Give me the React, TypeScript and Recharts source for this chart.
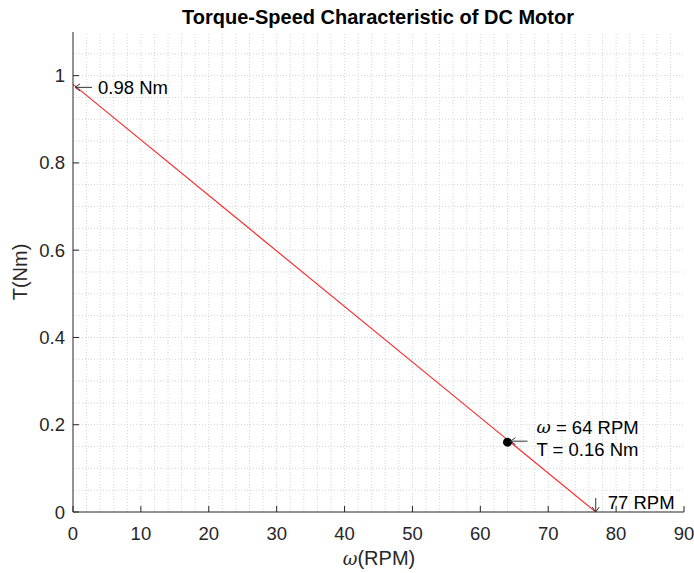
import React from 'react';
import {
  ComposedChart,
  Line,
  Scatter,
  XAxis,
  YAxis,
  ReferenceLine,
  ReferenceDot,
} from 'recharts';

// torque-speed line (two end points are enough, it is straight)
const speedRpm = [0, 77];
const torqueNm = [0.98, 0];

// operating point
const opSpeed = [64];
const opTorque = [0.16];

const xTicks = [0, 10, 20, 30, 40, 50, 60, 70, 80, 90];
const yTicks = [0, 0.2, 0.4, 0.6, 0.8, 1];
const xMinor = [2, 4, 6, 8, 12, 14, 16, 18, 22, 24, 26, 28, 32, 34, 36, 38, 42, 44, 46, 48, 52, 54, 56, 58, 62, 64, 66, 68, 72, 74, 76, 78, 82, 84, 86, 88];
const yMinor = [0.05, 0.1, 0.15, 0.25, 0.3, 0.35, 0.45, 0.5, 0.55, 0.65, 0.7, 0.75, 0.85, 0.9, 0.95, 1.05];

const lineData = speedRpm.map((s, i) => ({ speed: s, torque: torqueNm[i] }));
const pointData = opSpeed.map((s, i) => ({ speed: s, torque: opTorque[i] }));

const ink = '#262626';
const arrowInk = '#333';
const gridColor = '#d4d4d4';
const font = '"Liberation Sans", Arial, Helvetica, sans-serif';
const TICK_IN = 6;
const FS = 18.5;

const BottomTick = (props: any) => {
  const { x, y, payload } = props;
  const axisY = y - 14;
  return (
    <g>
      <line x1={x} x2={x} y1={axisY} y2={axisY - TICK_IN} stroke={ink} strokeWidth={1} />
      <text x={x} y={y} textAnchor="middle" dominantBaseline="hanging" fill={ink} fontSize={FS} fontFamily={font}>
        {payload.value}
      </text>
    </g>
  );
};

const TopTick = (props: any) => {
  const { x, y } = props;
  return <line x1={x} x2={x} y1={y} y2={y + TICK_IN} stroke={ink} strokeWidth={1} />;
};

const LeftTick = (props: any) => {
  const { x, y, payload } = props;
  const axisX = x + 8;
  return (
    <g>
      <line x1={axisX} x2={axisX + TICK_IN} y1={y} y2={y} stroke={ink} strokeWidth={1} />
      <text x={x} y={y} textAnchor="end" dominantBaseline="central" fill={ink} fontSize={FS} fontFamily={font}>
        {payload.value}
      </text>
    </g>
  );
};

const RightTick = (props: any) => {
  const { x, y } = props;
  return <line x1={x} x2={x - TICK_IN} y1={y} y2={y} stroke={ink} strokeWidth={1} />;
};

// MATLAB-style "\leftarrow" drawn as a thin arrow
const LeftArrow = ({ x, y }: { x: number; y: number }) => (
  <path
    d={`M${x},${y} L${x + 17},${y} M${x + 5},${y - 3.5} L${x},${y} L${x + 5},${y + 3.5}`}
    stroke={arrowInk}
    strokeWidth={1}
    fill="none"
  />
);

const StartLabel = ({ viewBox }: any) => (
  <g fontFamily={font} fontSize={FS}>
    <LeftArrow x={viewBox.x + 2} y={viewBox.y + 3} />
    <text x={viewBox.x + 25} y={viewBox.y + 3} dominantBaseline="central" fill="#000">0.98 Nm</text>
  </g>
);

const OpLabel = ({ viewBox }: any) => (
  <g fontFamily={font} fontSize={FS}>
    <LeftArrow x={viewBox.x + 3} y={viewBox.y - 1} />
    <text x={viewBox.x + 29} y={viewBox.y - 15} dominantBaseline="central" fill="#000">
      <tspan fontStyle="italic" fontFamily='"DejaVu Serif", serif' fontSize={FS - 1}>ω</tspan>
      <tspan> = 64 RPM</tspan>
    </text>
    <text x={viewBox.x + 29} y={viewBox.y + 7} dominantBaseline="central" fill="#000">T = 0.16 Nm</text>
  </g>
);

const ZeroLabel = ({ viewBox }: any) => (
  <g fontFamily={font} fontSize={FS}>
    <path
      d={`M${viewBox.x},${viewBox.y - 14} L${viewBox.x},${viewBox.y} M${viewBox.x - 3.5},${viewBox.y - 5} L${viewBox.x},${viewBox.y} L${viewBox.x + 3.5},${viewBox.y - 5}`}
      stroke={arrowInk}
      strokeWidth={1}
      fill="none"
    />
    <text x={viewBox.x + 12} y={viewBox.y - 10} dominantBaseline="central" fill="#000">77 RPM</text>
  </g>
);

export default function App() {
  return (
    <div style={{ width: 694, height: 573, background: '#fff' }}>
      <style>{'body{margin:0;background:#fff}'}</style>
      <ComposedChart
        width={694}
        height={573}
        margin={{ top: 32, right: 10, bottom: 0, left: 13 }}
        style={{ background: '#fff', overflow: 'visible' }}
      >
        <XAxis
          xAxisId="b"
          type="number"
          dataKey="speed"
          domain={[0, 90]}
          ticks={xTicks}
          interval={0}
          allowDataOverflow
          height={61}
          tickSize={0}
          tickMargin={14}
          tickLine={false}
          axisLine={{ stroke: ink, strokeWidth: 1 }}
          tick={<BottomTick />}
        />
        <XAxis
          xAxisId="t"
          orientation="top"
          type="number"
          dataKey="speed"
          domain={[0, 90]}
          ticks={xTicks}
          interval={0}
          height={0}
          tickSize={0}
          tickMargin={0}
          tickLine={false}
          axisLine={{ stroke: ink, strokeWidth: 1 }}
          tick={<TopTick />}
        />
        <YAxis
          yAxisId="l"
          type="number"
          dataKey="torque"
          domain={[0, 1.1]}
          ticks={yTicks}
          interval={0}
          allowDataOverflow
          width={60}
          tickSize={0}
          tickMargin={8}
          tickLine={false}
          axisLine={{ stroke: ink, strokeWidth: 1 }}
          tick={<LeftTick />}
        />
        <YAxis
          yAxisId="r"
          orientation="right"
          type="number"
          dataKey="torque"
          domain={[0, 1.1]}
          ticks={yTicks}
          interval={0}
          width={0}
          tickSize={0}
          tickMargin={0}
          tickLine={false}
          axisLine={{ stroke: ink, strokeWidth: 1 }}
          tick={<RightTick />}
        />

        {xMinor.concat(xTicks.slice(1, -1)).map((v) => (
          <ReferenceLine key={'gx' + v} x={v} xAxisId="b" yAxisId="l" stroke={gridColor} strokeDasharray="1 2" />
        ))}
        {yMinor.concat(yTicks.slice(1)).map((v) => (
          <ReferenceLine key={'gy' + v} y={v} xAxisId="b" yAxisId="l" stroke={gridColor} strokeDasharray="1 2" />
        ))}

        <Line
          xAxisId="b"
          yAxisId="l"
          data={lineData}
          dataKey="torque"
          type="linear"
          stroke="#ff2020"
          strokeWidth={1.1}
          dot={false}
          activeDot={false}
          isAnimationActive={false}
        />
        <Scatter
          xAxisId="b"
          yAxisId="l"
          data={pointData}
          dataKey="torque"
          fill="#000"
          shape={(p: any) => <circle cx={p.cx} cy={p.cy} r={4.5} fill="#000" />}
          isAnimationActive={false}
        />

        <ReferenceDot xAxisId="b" yAxisId="l" x={speedRpm[0]} y={torqueNm[0]} r={0} stroke="none" label={<StartLabel />} />
        <ReferenceDot xAxisId="b" yAxisId="l" x={opSpeed[0]} y={opTorque[0]} r={0} stroke="none" label={<OpLabel />} />
        <ReferenceDot xAxisId="b" yAxisId="l" x={speedRpm[1]} y={torqueNm[1]} r={0} stroke="none" label={<ZeroLabel />} />

        <text x={378} y={17} textAnchor="middle" dominantBaseline="central" fontWeight="bold" fontSize={20} fill="#000" fontFamily={font}>
          Torque-Speed Characteristic of DC Motor
        </text>
        <text x={379} y={558} textAnchor="middle" dominantBaseline="central" fontSize={20} fill={ink} fontFamily={font}>
          <tspan fontStyle="italic" fontFamily='"DejaVu Serif", serif' fontSize={18}>ω</tspan>
          <tspan>(RPM)</tspan>
        </text>
        <text x={20} y={272} textAnchor="middle" dominantBaseline="central" fontSize={20} fill={ink} fontFamily={font} transform="rotate(-90 20 272)">
          T(Nm)
        </text>
      </ComposedChart>
    </div>
  );
}
